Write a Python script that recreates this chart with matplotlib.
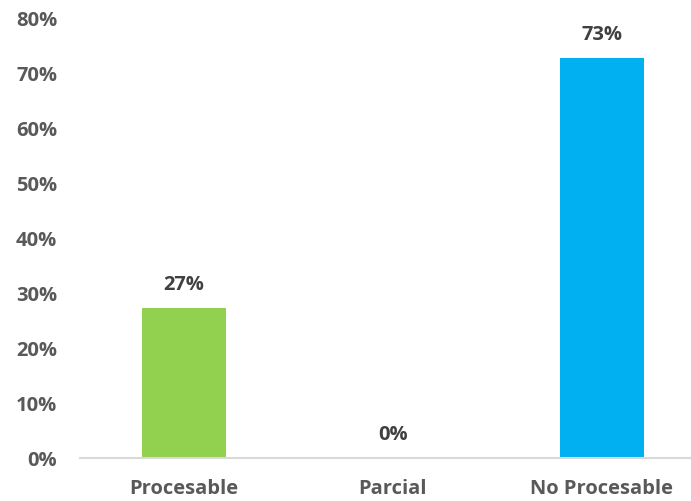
import matplotlib
matplotlib.use("Agg")
import matplotlib.pyplot as plt
from matplotlib.ticker import FuncFormatter

categories = ["Procesable", "Parcial", "No Procesable"]
values = [27.3, 0.0, 72.7]
value_labels = ["27%", "0%", "73%"]
colors = ["#92D050", "#92D050", "#00B0F0"]
yticks = [0, 10, 20, 30, 40, 50, 60, 70, 80]

plt.rcParams['font.family'] = ['Open Sans', 'DejaVu Sans']

fig = plt.figure(figsize=(6.91, 5.02), dpi=100)
ax = fig.add_axes([79.5/691, 43/502, 627/691, 440/502])

x = list(range(len(categories)))
bars = ax.bar(x, values, width=0.402, color=colors)

for xi, v, lab in zip(x, values, value_labels):
    ax.annotate(lab, (xi, v), xytext=(0, 17.5), textcoords="offset points",
                ha="center", va="center", fontsize=14.5, fontweight="bold",
                color="#404040")

ax.set_xlim(-0.5, 2.5)
ax.set_ylim(0, 80)
ax.set_yticks(yticks)
ax.yaxis.set_major_formatter(FuncFormatter(lambda v, p: f"{int(v)}%"))
ax.set_xticks(x)
ax.set_xticklabels(categories)

for s in ["top", "right", "left"]:
    ax.spines[s].set_visible(False)
ax.spines["bottom"].set_color("#D9D9D9")
ax.spines["bottom"].set_linewidth(1.5)

ax.tick_params(axis="y", length=0, pad=16, labelsize=14.5, labelcolor="#595959")
ax.tick_params(axis="x", length=0, pad=14.5, labelsize=14.5, labelcolor="#595959")
for t in ax.get_xticklabels() + ax.get_yticklabels():
    t.set_fontweight("bold")

fig.savefig("out.png", dpi=100)
